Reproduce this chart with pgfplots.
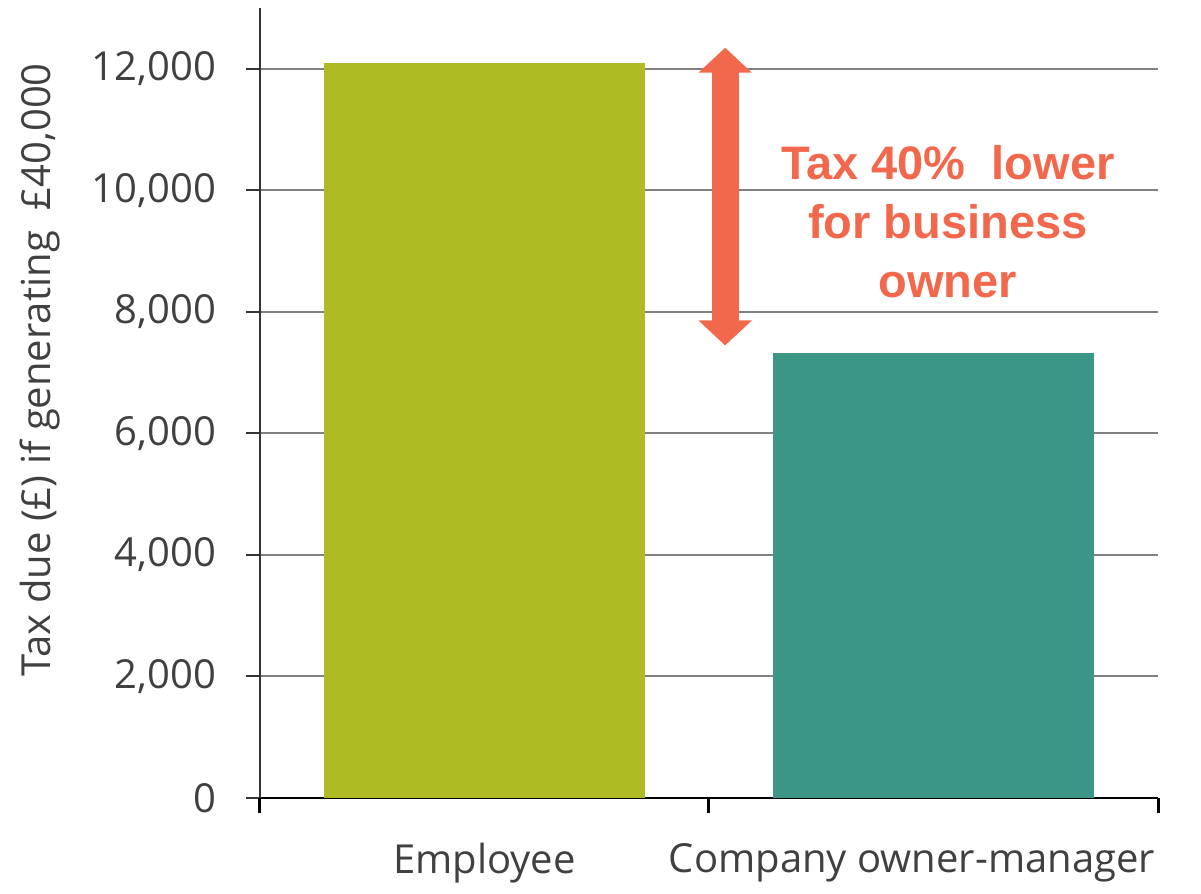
\documentclass[border=0pt]{standalone}
\usepackage{fontspec}
\setmainfont{Open Sans}
\newfontfamily\arialfont{Liberation Sans}
\usepackage{pgfplots}
\pgfplotsset{compat=1.18}
\usetikzlibrary{arrows.meta}

\definecolor{barA}{HTML}{AFBB22}
\definecolor{barB}{HTML}{3B9685}
\definecolor{coral}{HTML}{F2684C}
\definecolor{txt}{HTML}{404040}
\definecolor{gridc}{HTML}{808080}

\begin{document}
\begin{tikzpicture}
\useasboundingbox (-130pt,-48pt) rectangle (470.5pt,399pt);
\begin{axis}[
    scale only axis,
    width=449pt, height=395pt,
    ymin=0, ymax=13000,
    xmin=-0.5, xmax=1.5,
    ybar, bar width=0.715,
    axis x line*=bottom, axis y line*=left,
    x axis line style={black, line width=1.4pt},
    y axis line style={draw=txt!80!black, line width=1.4pt},
    ytick={0,2000,4000,6000,8000,10000,12000},
    ymajorgrids,
    grid style={gridc, line width=1pt},
    ytick style={draw=txt!80!black, line width=1pt},
    tick align=outside,
    major tick length=7pt,
    scaled y ticks=false,
    /pgf/number format/.cd, 1000 sep={,}, assume math mode=true,
    /pgfplots/.cd,
    yticklabel style={font=\fontsize{20}{24}\selectfont, text=txt, xshift=-11.5pt},
    xtick={0,0.952},
    xticklabels={Employee, Company owner-manager},
    xtick style={draw=none},
    xticklabel style={font=\fontsize{20}{24}\selectfont, text=txt, yshift=-12pt},
    extra x ticks={-0.5,0.5,1.5},
    extra x tick labels={},
    extra x tick style={grid=none, major tick length=7.5pt,
        xtick style={draw=black, line width=1.5pt},
        major tick style={draw=black, line width=1.5pt}},
    ylabel={Tax due (£) if generating \ £40,000},
    ylabel style={at={(axis description cs:-0.245,0.542)}, anchor=center,
        font=\fontsize{20}{24}\selectfont, text=txt},
    clip=false,
]
\addplot[fill=barA, draw=none, bar shift=0pt] coordinates {(0,12100)};
\addplot[fill=barB, draw=none, bar shift=0pt] coordinates {(1,7330)};
\draw[coral, line width=13.5pt,
    {Triangle[width=26pt,length=12.5pt]}-{Triangle[width=26pt,length=12.5pt]}]
    (axis cs:0.536,12346) -- (axis cs:0.536,7447);
\node[coral, align=center, font=\arialfont\bfseries\fontsize{23.5}{29.5}\selectfont]
    at (axis cs:1.032,9485) {Tax 40\%\ \ lower\\for business\\owner};
\end{axis}
\end{tikzpicture}
\end{document}
